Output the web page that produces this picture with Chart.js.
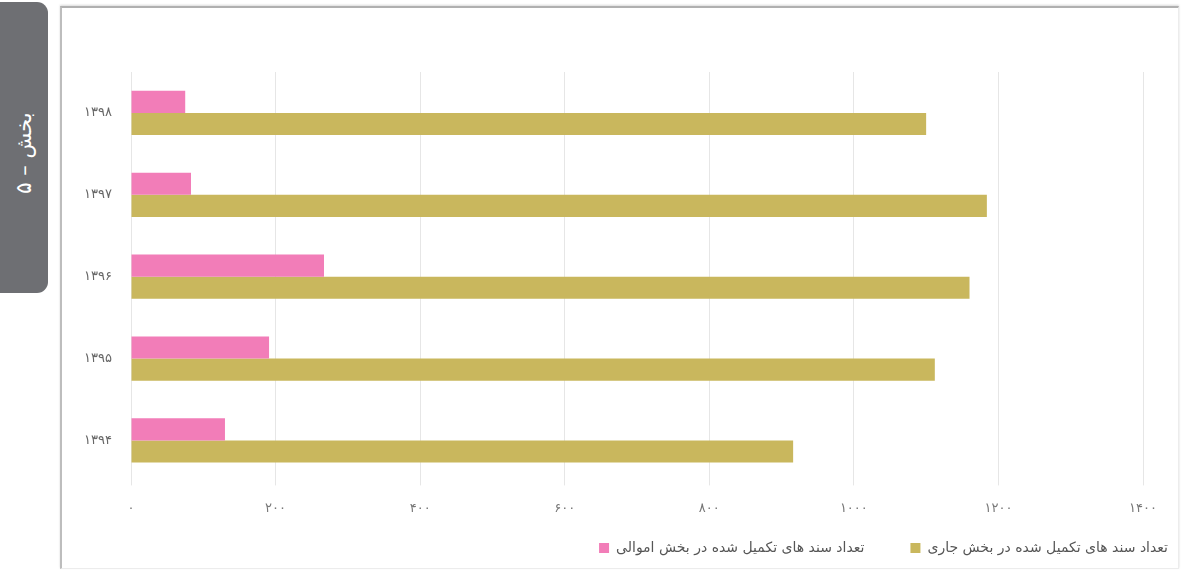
<!DOCTYPE html>
<html lang="fa">
<head>
<meta charset="utf-8">
<script src="https://cdn.jsdelivr.net/npm/chart.js@4"></script>
<style>
    body { margin: 0; background: #fff; width: 1186px; height: 573px; overflow: hidden; position: relative; font-family: 'DejaVu Sans', sans-serif; }
    .tab {
        position: absolute; left: 0; top: 2px; width: 48px; height: 291px;
        background: #6e6f73; border-radius: 0 11px 11px 0;
    }
    .tab span {
        position: absolute; left: 24px; top: 151px; transform: translate(-50%, -50%) rotate(-90deg);
        color: #fff; font-size: 21px; white-space: nowrap; direction: rtl;
    }
    .card {
        position: absolute; left: 60px; top: 6px; width: 1116px; height: 560px;
        border-top: 2px solid #b0b0b0; border-left: 2px solid #bdbdbd;
        border-right: 1px solid #ececec; border-bottom: 1px solid #ececec;
        box-shadow: 0 -1px 2px rgba(0, 0, 0, 0.15);
    }
    .card canvas { display: block; }
</style>
</head>
<body>
<div class="tab"><span>بخش – ۵</span></div>
<div class="card"><canvas id="chart1" width="1116" height="560"></canvas></div>
<script>
const years = ['۱۳۹۸', '۱۳۹۷', '۱۳۹۶', '۱۳۹۵', '۱۳۹۴'];
const amvali = [75, 83, 267, 191, 130];
const jari = [1100, 1184, 1160, 1112, 916];
const xTickLabels = ['۰', '۲۰۰', '۴۰۰', '۶۰۰', '۸۰۰', '۱۰۰۰', '۱۲۰۰', '۱۴۰۰'];

// legend keeps wide gaps between items but sits closer under the axis
const legendLift = {
    id: 'legendLift',
    afterLayout(chart) {
        const lg = chart.legend;
        lg.top -= 36;
        lg.bottom -= 36;
    }
};

const ctx1 = document.getElementById('chart1').getContext('2d');
const chart1 = new Chart(ctx1, {
    type: 'bar',
    data: {
        labels: years,
        datasets: [{
            label: 'تعداد سند های تکمیل شده در بخش اموالی',
            data: amvali,
            backgroundColor: '#f27db8',
            categoryPercentage: 0.54,
            barPercentage: 1
        }, {
            label: 'تعداد سند های تکمیل شده در بخش جاری',
            data: jari,
            backgroundColor: '#c9b75d',
            categoryPercentage: 0.54,
            barPercentage: 1
        }]
    },
    plugins: [legendLift],
    options: {
        indexAxis: 'y',
        responsive: false,
        animation: false,
        layout: {
            padding: { top: 64, right: -36, left: 10, bottom: -33 }
        },
        plugins: {
            legend: {
                display: true,
                position: 'bottom',
                align: 'end',
                labels: {
                    boxWidth: 10,
                    boxHeight: 10,
                    padding: 46,
                    color: '#555',
                    font: { family: 'DejaVu Sans', size: 14 }
                }
            },
            tooltip: { enabled: false }
        },
        scales: {
            x: {
                min: 0,
                max: 1400,
                afterFit: (scale) => { scale.paddingRight = 35; },
                ticks: {
                    stepSize: 200,
                    padding: 15,
                    color: '#777',
                    font: { family: 'DejaVu Sans', size: 13 },
                    callback: (value) => xTickLabels[value / 200]
                },
                grid: { color: '#e6e6e6', tickLength: 4 },
                border: { display: false }
            },
            y: {
                afterFit: (scale) => { scale.width = 59; },
                ticks: {
                    padding: 11,
                    color: '#666',
                    font: { family: 'DejaVu Sans', size: 13 }
                },
                grid: { display: false },
                border: { color: '#e6e6e6' }
            }
        }
    }
});
</script>
</body>
</html>
